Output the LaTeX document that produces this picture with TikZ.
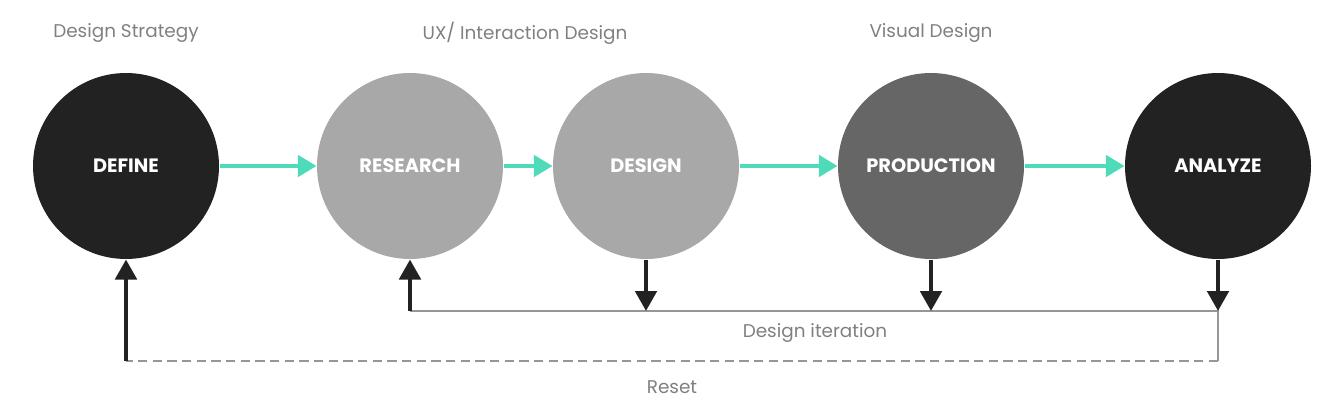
\documentclass[tikz,border=0pt]{standalone}
\usepackage{fontspec}
\setmainfont{Poppins}
\usetikzlibrary{arrows.meta}

\definecolor{darkfill}{RGB}{34,34,34}
\definecolor{lightfill}{RGB}{168,168,168}
\definecolor{midfill}{RGB}{102,102,102}
\definecolor{tealline}{RGB}{77,219,185}
\definecolor{labelgray}{RGB}{128,128,128}
\definecolor{thingray}{RGB}{150,150,150}

\tikzset{every picture/.style={line width=0.75pt}}
\tikzset{
  stage/.style={circle, minimum size=139.5pt, inner sep=0pt, text=white, font=\fontsize{14.5}{16}\selectfont\bfseries},
  phase/.style={text=labelgray, inner sep=0.75pt, font=\fontsize{13.8}{16}\selectfont},
  flow/.style={tealline, line width=3pt, -{Triangle[width=16pt,length=14pt]}},
  loop/.style={darkfill, line width=3pt, -{Triangle[width=16pt,length=15pt]}},
}

\begin{document}
\begin{tikzpicture}[x=0.75pt,y=0.75pt,yscale=-1,xscale=1]
\path[use as bounding box] (0,0) rectangle (1343,410);

%Stages
\node [stage, fill=darkfill] (define) at (126,166) {DEFINE};
\node [stage, fill=lightfill] (research) at (410,166) {RESEARCH};
\node [stage, fill=lightfill] (design) at (646,166) {DESIGN};
\node [stage, fill=midfill] (production) at (931,166) {PRODUCTION};
\node [stage, fill=darkfill] (analyze) at (1218,166) {ANALYZE};

% Text Node
\node [phase] (strategy) at (126,33) {Design Strategy};
\node [phase] (ux) at (525,33) {UX/ Interaction Design};
\node [phase] (visual) at (931,33) {Visual Design};

%Forward arrows
\draw [flow] (define) -- (research);
\draw [flow] (research) -- (design);
\draw [flow] (design) -- (production);
\draw [flow] (production) -- (analyze);

%Iteration loop
\coordinate (itl) at (410,311);
\coordinate (itd) at (646,311);
\coordinate (itp) at (931,311);
\coordinate (itr) at (1218,311);
\coordinate (rsr) at (1218,361);
\coordinate (rsl) at (126,361);

\draw [thingray, line width=1.5pt] (itl) -- (itr) -- (rsr);
\draw [thingray, line width=1.5pt, dash pattern={on 7pt off 4pt}] (rsr) -- (rsl);

\draw [loop] (design.south) -- (itd);
\draw [loop] (production.south) -- (itp);
\draw [loop] (analyze.south) -- (itr);
\draw [loop] (itl) -- (research.south);
\draw [loop] (rsl) -- (define.south);

% Text Node
\node [phase] (iteration) at (815,333) {Design iteration};
\node [phase] (reset) at (672,387) {Reset};

\end{tikzpicture}
\end{document}
